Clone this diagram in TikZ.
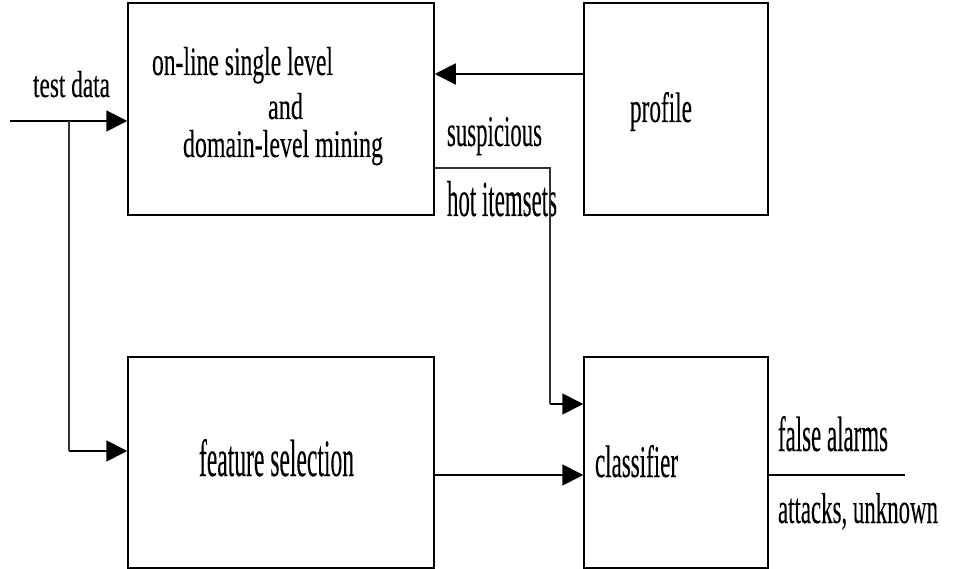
\documentclass[tikz,border=0pt]{standalone}
\usepackage{fontspec}
\usepackage{graphicx}
\setmainfont{Liberation Serif}[FakeBold=0.25]
\usetikzlibrary{arrows.meta}
\tikzset{
  blk/.style={draw=black, line width=1.5pt, fill=none, inner sep=0pt, rectangle},
  conn/.style={draw=black, line width=1.8pt},
  thin/.style={draw=black!80, line width=1.3pt},
  arr/.style={-{Triangle[length=21pt,width=21pt]}},
  lbl/.style={anchor=base west, inner sep=0pt, outer sep=0pt},
}
\newcommand{\fit}[3]{\resizebox{#1pt}{#2pt}{#3}}
\begin{document}
\begin{tikzpicture}[x=1pt,y=-1pt]
\useasboundingbox (0,0) rectangle (959,569);
% boxes
\node[blk, minimum width=306pt, minimum height=212pt] (mine) at (281,109) {};
\node[blk, minimum width=184pt, minimum height=212pt] (prof) at (676,109) {};
\node[blk, minimum width=306pt, minimum height=211pt] (feat) at (281,462.5) {};
\node[blk, minimum width=184pt, minimum height=211pt] (clas) at (676,462.5) {};
% labels
\node[lbl] (tTest) at (33,97) {\fit{77}{26}{test data}};
\node[lbl] (tOn) at (152,75) {\fit{181}{28}{on-line single level}};
\node[lbl] (tAnd) at (268,119) {\fit{35}{26}{and}};
\node[lbl] (tDom) at (183,157) {\fit{200}{27}{domain-level mining}};
\node[lbl] (tSus) at (447,146) {\fit{95}{29}{suspicious}};
\node[lbl] (tHot) at (447,216) {\fit{110}{35}{hot itemsets}};
\node[lbl] (tProf) at (630,122) {\fit{62}{30}{profile}};
\node[lbl] (tFeat) at (199,476) {\fit{155}{37}{feature selection}};
\node[lbl] (tClas) at (595,477) {\fit{83}{32}{classifier}};
\node[lbl] (tFalse) at (778,451) {\fit{110}{35}{false alarms}};
\node[lbl] (tAtt) at (778,523) {\fit{160}{30}{attacks, unknown}};
% coordinates
\coordinate (in) at (10,121);
\coordinate (br) at (69,121);
\coordinate (brd) at (69,451);
\coordinate (pf) at (584,74);
\coordinate (s0) at (435,168);
\coordinate (s1) at (550,168);
\coordinate (s2) at (550,404);
\coordinate (f0) at (435,475);
\coordinate (out) at (905,475);
% connectors
\draw[conn, arr] (in) -- (in -| mine.west);
\draw[thin] (br) -- (brd);
\draw[conn, arr] (brd) -- (brd -| feat.west);
\draw[conn, arr] (pf) -- (pf -| mine.east);
\draw[thin] (s0) -- (s1) -- (s2);
\draw[conn, arr] (s2) -- (s2 -| clas.west);
\draw[conn, arr] (f0) -- (f0 -| clas.west);
\draw[conn] (out -| clas.east) -- (out);
\end{tikzpicture}
\end{document}
